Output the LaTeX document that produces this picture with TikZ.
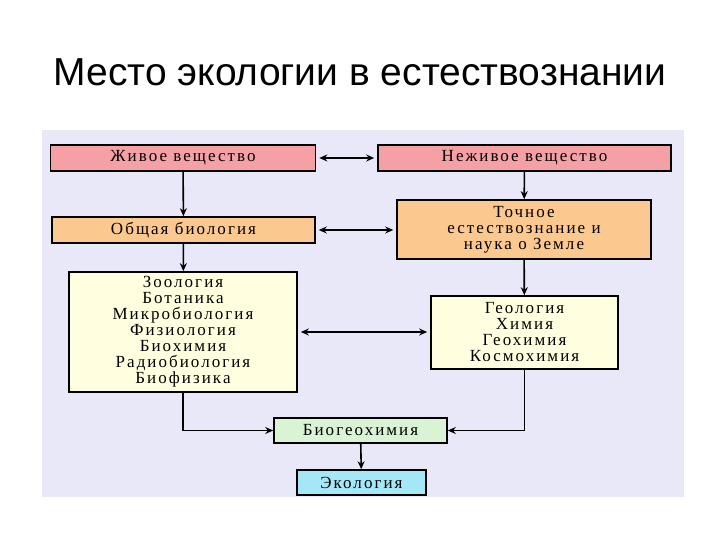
\documentclass[tikz,border=0pt]{standalone}
\usepackage{fontspec}
\setmainfont{Liberation Serif}
\newfontfamily\titlefont{Liberation Sans}
\newfontfamily\boxfont{Liberation Serif}[LetterSpace=12]
\usetikzlibrary{arrows.meta}
\definecolor{bgc}{HTML}{E8E8F8}
\definecolor{pinkc}{HTML}{F4A0A4}
\definecolor{orangec}{HTML}{FBC890}
\definecolor{yellc}{HTML}{FFFFE0}
\definecolor{greenc}{HTML}{D8F4D4}
\definecolor{cyanc}{HTML}{A4E8F8}
\begin{document}
\begin{tikzpicture}[x=1bp,y=-1bp,
  bx/.style={draw=black,line width=1.6bp,inner sep=0pt,align=center,
    font=\boxfont\fontsize{17bp}{16bp}\selectfont},
  ar/.style={line width=1.6bp,-{Stealth[length=8bp,width=7bp]}},
  dar/.style={line width=1.6bp,{Stealth[length=8bp,width=7bp]}-{Stealth[length=8bp,width=7bp]}}]
\useasboundingbox (0,0) rectangle (720,540);
\fill[white] (0,0) rectangle (720,540);
\node[font=\titlefont\fontsize{39bp}{44bp}\selectfont] (title) at (360,72) {Место экологии в естествознании};
\fill[bgc] (42,130) rectangle (684,497);
\node[bx,fill=pinkc,minimum width=265bp,minimum height=26bp] (zh) at (183,158) {Живое вещество};
\node[bx,fill=pinkc,minimum width=293bp,minimum height=26bp] (nezh) at (524.5,158) {Неживое вещество};
\node[bx,fill=orangec,minimum width=263bp,minimum height=26bp] (ob) at (183.5,230) {Общая биология};
\node[bx,fill=orangec,minimum width=254bp,minimum height=59bp] (toch) at (524,229.5) {Точное\\естествознание и\\наука о Земле};
\node[bx,fill=yellc,minimum width=228bp,minimum height=120bp] (bio) at (183,332) {Зоология\\Ботаника\\Микробиология\\Физиология\\Биохимия\\Радиобиология\\Биофизика};
\node[bx,fill=yellc,minimum width=187bp,minimum height=73bp] (geo) at (524.5,332.5) {Геология\\Химия\\Геохимия\\Космохимия};
\node[bx,fill=greenc,minimum width=173bp,minimum height=25bp] (bgc) at (360.5,430.5) {Биогеохимия};
\node[bx,fill=cyanc,minimum width=129bp,minimum height=25bp] (eco) at (361.5,482.5) {Экология};
\draw[dar] ([xshift=3bp]zh.east) -- ([xshift=-3bp]nezh.west);
\draw[dar] ([xshift=3bp]ob.east) -- ([xshift=-3bp]ob.east -| toch.west);
\draw[dar] ([xshift=3bp]bio.east) -- ([xshift=-3bp]bio.east -| geo.west);
\draw[ar] (zh) -- (ob);
\draw[ar] (ob) -- (bio);
\draw[ar] (nezh) -- (toch);
\draw[ar] (toch) -- (geo);
\draw[ar] (bio.south) |- (bgc.west);
\draw[ar] (geo.south) |- (bgc.east);
\draw[ar] (bgc) -- (eco);
\end{tikzpicture}
\end{document}
